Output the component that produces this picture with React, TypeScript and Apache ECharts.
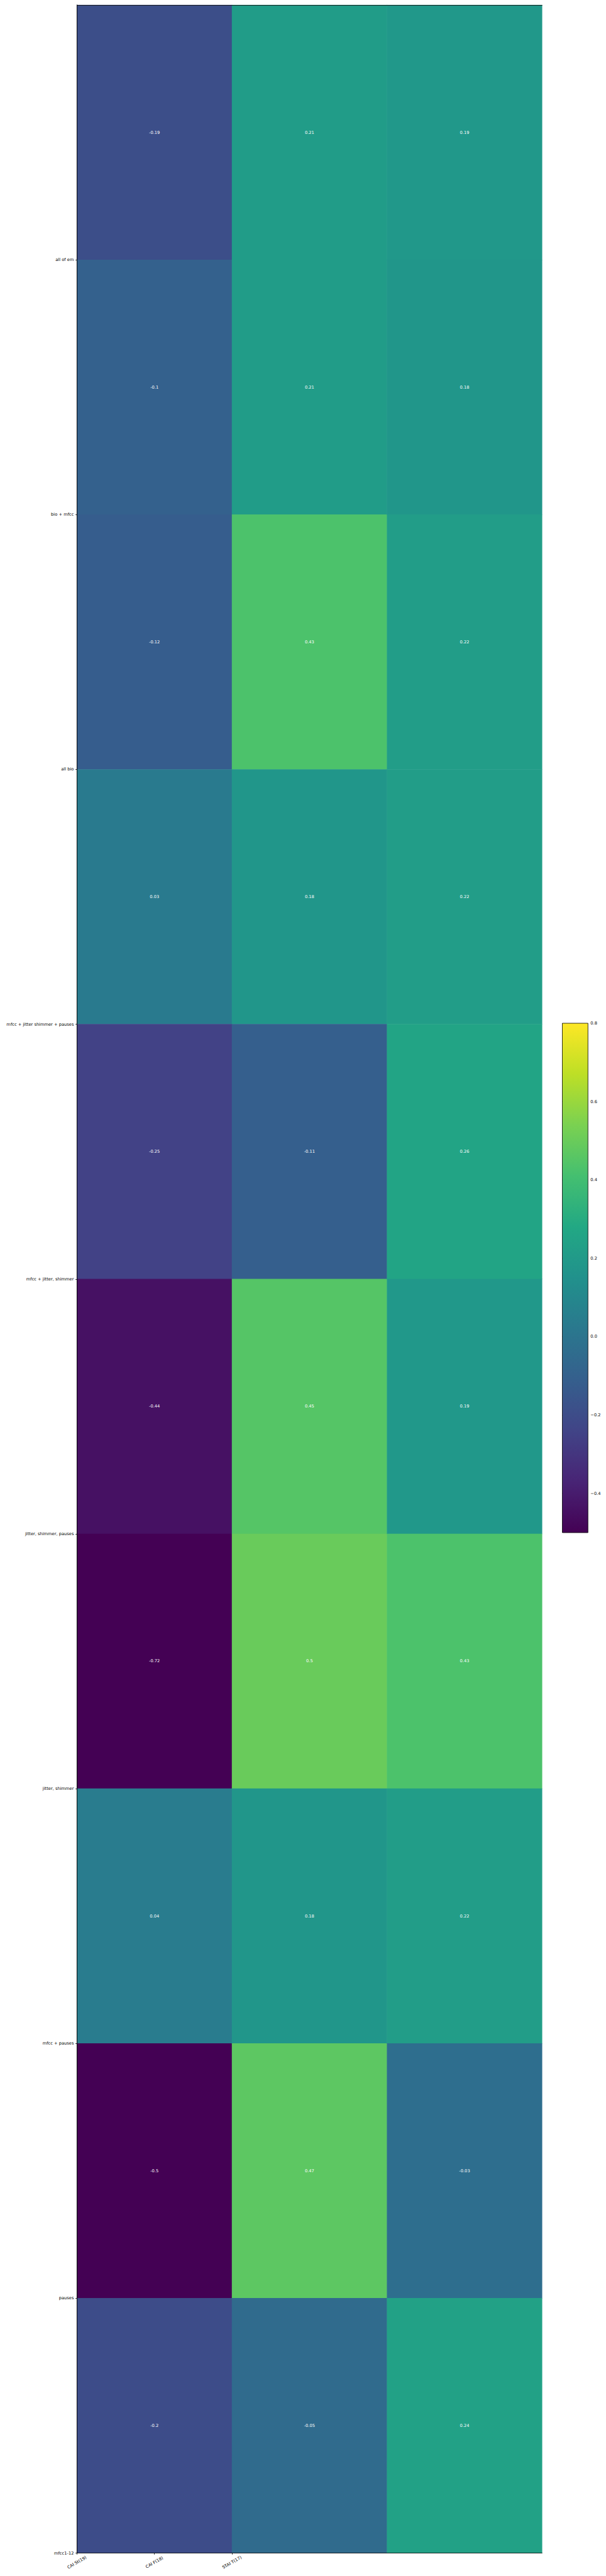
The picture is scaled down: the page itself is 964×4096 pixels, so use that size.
import React, { useEffect, useRef } from 'react';
import * as echarts from 'echarts';

const columnNames = ['CAI St(19)', 'CAI F(18)', 'STAI T(17)'];
const rowNames = [
  'all of em',
  'bio + mfcc',
  'all bio',
  'mfcc + jitter shimmer + pauses',
  'mfcc + jitter, shimmer',
  'jitter, shimmer, pauses',
  'jitter, shimmer',
  'mfcc + pauses',
  'pauses',
  'mfcc1-12',
];
// values per column, rows top to bottom
const caiSt = [-0.19, -0.1, -0.12, 0.03, -0.25, -0.44, -0.72, 0.04, -0.5, -0.2];
const caiF = [0.21, 0.21, 0.43, 0.18, -0.11, 0.45, 0.5, 0.18, 0.47, -0.05];
const staiT = [0.19, 0.18, 0.22, 0.22, 0.26, 0.19, 0.43, 0.22, -0.03, 0.24];

const xTickPositions = [0, 0.5, 1];
const yTickPositions = [1, 2, 3, 4, 5, 6, 7, 8, 9, 10];
const colorbarTicks = [-0.4, -0.2, 0, 0.2, 0.4, 0.6, 0.8];
const vmin = -0.5;
const vmax = 0.8;

const viridis = [
  '#440154', '#482475', '#414487', '#355f8d', '#2a788e',
  '#21918c', '#22a884', '#44bf70', '#7ad151', '#bddf26', '#fde725',
];

export default function App() {
  const ref = useRef<HTMLDivElement>(null);
  useEffect(() => {
    const chart = echarts.init(ref.current!, null, { renderer: 'svg' });
    const columns = [caiSt, caiF, staiT];
    const data: number[][] = [];
    columns.forEach((col, ci) =>
      col.forEach((v, ri) => data.push([ci, ri, v, Math.min(vmax, Math.max(vmin, v))]))
    );
    const font = 'DejaVu Sans';
    const fs = 6.7;
    const line = { show: true, lineStyle: { color: '#000', width: 0.8 } };
    chart.setOption({
      animation: false,
      textStyle: { fontFamily: font },
      grid: [
        { left: 122.4, top: 8, width: 739.9, height: 4051.5 },
        { left: 894.5, top: 1627, width: 40.8, height: 810 },
      ],
      xAxis: [
        {
          type: 'category', gridIndex: 0, data: columnNames, position: 'top',
          axisLine: line, axisTick: { show: false }, axisLabel: { show: false },
          splitLine: { show: false }, z: 10,
        },
        {
          type: 'value', gridIndex: 0, min: 0, max: 3, position: 'bottom',
          axisLine: line,
          axisTick: { show: true, customValues: xTickPositions, length: 2.4, lineStyle: { color: '#000', width: 0.8 } },
          axisLabel: {
            customValues: xTickPositions,
            formatter: (v: number) => columnNames[xTickPositions.indexOf(v)] ?? '',
            rotate: 30, align: 'center', verticalAlign: 'middle', margin: 15,
            fontSize: fs, color: '#000', fontFamily: font,
          },
          splitLine: { show: false }, z: 10,
        },
        { type: 'value', gridIndex: 1, min: 0, max: 1, show: false },
      ],
      yAxis: [
        {
          type: 'category', gridIndex: 0, data: rowNames, inverse: true, position: 'right',
          axisLine: line, axisTick: { show: false }, axisLabel: { show: false },
          splitLine: { show: false }, z: 10,
        },
        {
          type: 'value', gridIndex: 0, min: 0, max: 10, inverse: true, position: 'left',
          axisLine: line,
          axisTick: { show: true, customValues: yTickPositions, length: 2.4, lineStyle: { color: '#000', width: 0.8 } },
          axisLabel: {
            customValues: yTickPositions,
            formatter: (v: number) => rowNames[v - 1] ?? '',
            margin: 5, fontSize: fs, color: '#000', fontFamily: font,
          },
          splitLine: { show: false }, z: 10,
        },
        {
          type: 'value', gridIndex: 1, min: vmin, max: vmax, position: 'right',
          axisLine: { show: false },
          axisTick: { show: true, customValues: colorbarTicks, length: 2.4, lineStyle: { color: '#000', width: 0.8 } },
          axisLabel: {
            customValues: colorbarTicks,
            formatter: (v: number) => v.toFixed(1).replace('-', '\u2212'),
            margin: 4, fontSize: fs, color: '#000', fontFamily: font,
          },
          splitLine: { show: false },
        },
      ],
      visualMap: {
        type: 'continuous', show: false, min: vmin, max: vmax, dimension: 3,
        seriesIndex: 0, inRange: { color: viridis },
      },
      series: [
        {
          type: 'heatmap', xAxisIndex: 0, yAxisIndex: 0, data,
          label: {
            show: true, formatter: (p: any) => String(p.value[2]),
            color: '#fff', fontSize: fs, fontFamily: font,
          },
          itemStyle: { borderWidth: 0 },
        },
        {
          type: 'custom', xAxisIndex: 2, yAxisIndex: 2, data: [[0, 0]],
          renderItem: (params: any, api: any) => {
            const p0 = api.coord([0, vmax]);
            const p1 = api.coord([1, vmin]);
            const shape = { x: p0[0], y: p0[1], width: p1[0] - p0[0], height: p1[1] - p0[1] };
            const stops = viridis.slice().reverse().map((c, i, a) => ({ offset: i / (a.length - 1), color: c }));
            return {
              type: 'group',
              children: [
                { type: 'rect', shape, style: { fill: new echarts.graphic.LinearGradient(0, 0, 0, 1, stops) } },
                { type: 'rect', shape, style: { fill: 'none', stroke: '#000', lineWidth: 0.8 } },
              ],
            };
          },
        },
      ],
    });
    return () => chart.dispose();
  }, []);
  return (
    <div
      ref={ref}
      style={{ position: 'absolute', left: 0, top: 0, width: 964, height: 4096 }}
    />
  );
}
